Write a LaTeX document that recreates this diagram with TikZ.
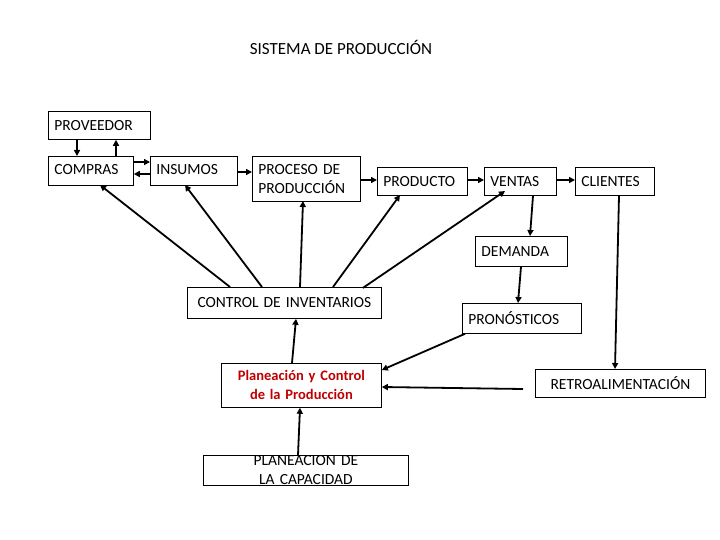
\documentclass[tikz,border=0pt]{standalone}
\usepackage{fontspec}
\setmainfont{Carlito}
\usetikzlibrary{arrows.meta}
\begin{document}
\begin{tikzpicture}[x=1pt,y=-1pt,
  box/.style={draw,line width=0.8pt,anchor=north west,inner xsep=6pt,inner ysep=0pt,align=left,font=\fontsize{15.5}{19}\selectfont},
  ar/.style={line width=1.8pt,-{Triangle[length=6pt,width=6pt]}}]
\useasboundingbox (0,0) rectangle (720,540);
\node[font=\fontsize{17}{20}\selectfont] (title) at (341,47) {SISTEMA DE PRODUCCIÓN};
\newcommand\bx[7]{\node[box,minimum width=#4,minimum height=#5,text width=#4-12,#6] (#1) at (#2,#3) {#7};}
\bx{prov}{48}{111}{102pt}{28pt}{}{PROVEEDOR}
\bx{comp}{48}{156}{85pt}{29pt}{anchor=north west}{\raisebox{3pt}{COMPRAS}}
\bx{ins}{150}{156}{87pt}{29pt}{}{\raisebox{3pt}{INSUMOS}}
\bx{proc}{252}{156}{108pt}{45pt}{}{PROCESO DE\\PRODUCCIÓN}
\bx{prod}{377}{167}{90pt}{28pt}{}{PRODUCTO}
\bx{vent}{484}{167}{72pt}{28pt}{}{VENTAS}
\bx{cli}{575}{167}{79pt}{28pt}{}{CLIENTES}
\bx{dem}{475}{236}{92pt}{30pt}{}{DEMANDA}
\bx{pron}{462}{303}{119pt}{30pt}{}{PRONÓSTICOS}
\bx{retro}{535}{369}{170pt}{28pt}{align=center}{RETROALIMENTACIÓN}
\bx{ctrl}{187}{287}{194pt}{31pt}{align=center}{CONTROL DE INVENTARIOS}
\bx{plan}{221}{363}{160pt}{44pt}{align=center,text=red!75!black,font=\fontsize{14.5}{19}\selectfont\bfseries}{Planeación y Control\\de la Producción}
\node[box,minimum width=205pt,minimum height=30pt,inner xsep=2pt,text width=201pt,align=center] (cap) at (203,455) {PLANEACION DE LA CAPACIDAD};
\draw[ar] (prov.south west -| 77,0) -- (comp.north west -| 77,0);
\draw[ar] (comp.north west -| 116,0) -- (prov.south west -| 116,0);
\draw[ar] (comp.east |- 0,162) -- (ins.west |- 0,162);
\draw[ar] (ins.west |- 0,174) -- (comp.east |- 0,174);
\draw[ar] (ins.east |- 0,172) -- (proc.west |- 0,172);
\draw[ar] (proc.east |- 0,180) -- (prod.west |- 0,180);
\draw[ar] (prod.east |- 0,180) -- (vent.west |- 0,180);
\draw[ar] (vent.east |- 0,180) -- (cli.west |- 0,180);
\draw[ar] (ctrl.north west -| 230,0) -- (100,185);
\draw[ar] (ctrl.north west -| 262,0) -- (185,185);
\draw[ar] (ctrl.north west -| 300,0) -- (303,201);
\draw[ar] (ctrl.north west -| 333,0) -- (400,195);
\draw[ar] (ctrl.north east) ++(-19,1) -- (505,191);
\draw[ar] (plan.north west -| 292,0) -- (ctrl.south west -| 296,0);
\draw[ar] (cap.north west -| 298,0) -- (plan.south west -| 300,0);
\draw[ar] (vent.south west -| 533,0) -- (dem.north west -| 530,0);
\draw[ar] (dem.south west -| 521,0) -- (pron.north west -| 518,0);
\draw[ar] (pron.south west) ++(3,0) -- (plan.east |- 0,370);
\draw[ar] (cli.south west -| 619,0) -- (retro.north west -| 615,0);
\coordinate (rs) at (523,389);
\draw[ar] (rs) -- (plan.east |- 0,387);
\end{tikzpicture}
\end{document}
